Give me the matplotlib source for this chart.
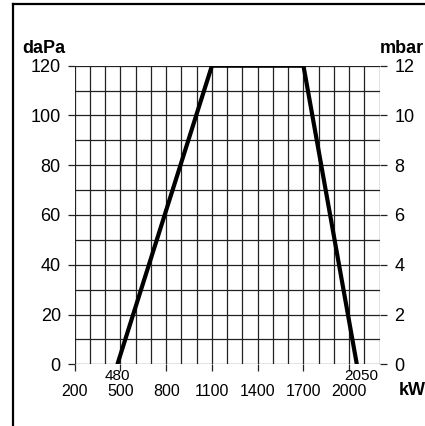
import matplotlib
matplotlib.use("Agg")
import matplotlib.pyplot as plt
from matplotlib.lines import Line2D

plt.rcParams['font.family'] = ['Liberation Sans', 'DejaVu Sans']

# working range curve (kW vs daPa)
power_kw = [480, 1100, 1700, 2050]
pressure_dapa = [0, 120, 120, 0]

x_ticks = [200, 500, 800, 1100, 1400, 1700, 2000]
y_ticks = [0, 20, 40, 60, 80, 100, 120]
mbar_ticks = [0, 2, 4, 6, 8, 10, 12]
extra_labels = [480, 2050]

fig = plt.figure(figsize=(4.25, 4.26), dpi=100)
ax = fig.add_axes([74.7 / 425, 61.7 / 426, 305 / 425, 298.6 / 426])

grid_col = '#222222'
for xv in range(200, 2201, 100):
    ax.axvline(xv, color=grid_col, lw=0.9, zorder=1)
for yv in range(0, 121, 10):
    ax.axhline(yv, color=grid_col, lw=0.9, zorder=1)

ax.plot(power_kw, pressure_dapa, color='black', lw=3.0, zorder=3,
        solid_capstyle='butt')

ax.set_xlim(200, 2200)
ax.set_ylim(0, 120)
for s in ax.spines.values():
    s.set_visible(False)

ax.set_xticks(x_ticks)
ax.set_xticklabels([str(v) for v in x_ticks])
ax.set_yticks(y_ticks)
ax.set_yticklabels([str(v) for v in y_ticks])
ax.tick_params(axis='y', direction='out', length=5, width=0.9, color=grid_col,
               labelsize=13, pad=5)
ax.tick_params(axis='x', direction='out', length=5, width=0.9, color=grid_col,
               labelsize=11.5, pad=9)

ax2 = ax.twinx()
ax2.set_ylim(0, 12)
ax2.set_yticks(mbar_ticks)
ax2.set_yticklabels([str(v) for v in mbar_ticks])
ax2.tick_params(axis='y', direction='out', length=5, width=0.9, color=grid_col,
                labelsize=13, pad=5.5)
for s in ax2.spines.values():
    s.set_visible(False)

for v, dx in zip(extra_labels, [0, 3]):
    ax.annotate(str(v), xy=(v, 0), xycoords='data', xytext=(dx, -3.6),
                textcoords='offset points', ha='center', va='top',
                fontsize=11, annotation_clip=False)

fig.text(22 / 425, 1 - 53 / 426, 'daPa', fontsize=13, fontweight='bold',
         ha='left', va='baseline')
fig.text(380 / 425, 1 - 53 / 426, 'mbar', fontsize=13, fontweight='bold',
         ha='left', va='baseline')
fig.text(399 / 425, 1 - 395 / 426, 'kW', fontsize=13, fontweight='bold',
         ha='left', va='baseline')

# page border
fig.add_artist(Line2D([13 / 425, 13 / 425], [0, 1 - 4 / 426], color='black',
                      lw=1.6, transform=fig.transFigure))
fig.add_artist(Line2D([13 / 425, 1], [1 - 4 / 426, 1 - 4 / 426], color='black',
                      lw=1.6, transform=fig.transFigure))

fig.savefig('out.png', dpi=100)
